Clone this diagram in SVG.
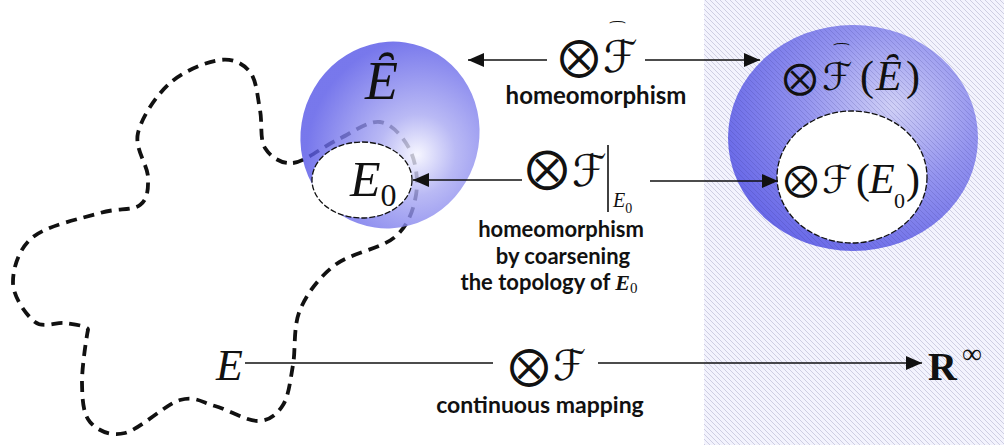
<svg xmlns="http://www.w3.org/2000/svg" width="1004" height="445" viewBox="0 0 1004 445">
<style>
.lbl{font-family:Lato,"Open Sans",sans-serif;font-weight:bold;fill:#111;text-anchor:middle}
.mi{font-family:"Liberation Serif",serif;font-style:italic;fill:#111}
.rm{font-family:"Liberation Serif",serif;fill:#111}
.op{font-family:"DejaVu Sans",sans-serif;fill:#111;text-anchor:middle}
.cal{font-family:"DejaVu Sans",serif;fill:#111}
.hat{font-family:"DejaVu Sans",sans-serif;fill:#111;text-anchor:middle;font-size:16px}
.conn{stroke:#111;stroke-width:1.6;fill:none}
.dash{stroke:#111;stroke-width:3.8;fill:none;stroke-dasharray:11 7}
.bd{stroke:#111;stroke-width:1.3;stroke-dasharray:6 2}
</style>
<defs>
<pattern id="hatch" patternUnits="userSpaceOnUse" width="5" height="5">
<rect width="5" height="5" fill="#f3f3fd"/>
<path d="M-1,-1 L6,6 M-1,4 L1,6 M4,-1 L6,1" stroke="#c2c2da" stroke-width="0.75"/>
</pattern>
<pattern id="hatch2" patternUnits="userSpaceOnUse" width="5" height="5">
<path d="M-1,-1 L6,6 M-1,4 L1,6 M4,-1 L6,1" stroke="#2a2a80" stroke-opacity="0.22" stroke-width="0.8"/>
</pattern>
<radialGradient id="gL" cx="0.68" cy="0.55" r="0.62" fx="0.68" fy="0.55">
<stop offset="0" stop-color="#f4f4ff"/>
<stop offset="0.35" stop-color="#a8a8f2"/>
<stop offset="1" stop-color="#5656e7"/>
</radialGradient>
<radialGradient id="gR" cx="0.66" cy="0.36" r="0.7" fx="0.66" fy="0.36">
<stop offset="0" stop-color="#d0d0f6"/>
<stop offset="0.5" stop-color="#9494ef"/>
<stop offset="1" stop-color="#6a6ae8"/>
</radialGradient>
<marker id="ah" markerUnits="userSpaceOnUse" markerWidth="18" markerHeight="14" refX="16" refY="7" orient="auto">
<path d="M0,0 L16,7 L0,14 z" fill="#111"/>
</marker>
</defs>
<rect width="1004" height="445" fill="#ffffff"/>
<rect id="space-R" x="704" y="0" width="300" height="445" fill="url(#hatch)"/>

<g id="curve-E">
<path class="dash" d="M293,163 C305,161.7 322.5,146.8 337,140 C351.5,133.2 367.8,120.3 380,122 C392.2,123.7 404,137.8 410,150 C416,162.2 418.5,180.5 416,195 C413.5,209.5 408.5,225.3 395,237 C381.5,248.7 350.8,252.8 335,265 C319.2,277.2 307,293.3 300,310 C293,326.7 295.8,349.2 293,365 C290.2,380.8 288.8,395.7 283,405 C277.2,414.3 269.3,420.8 258,421 C246.7,421.2 228,409.5 215,406 C202,402.5 195,395.5 180,400 C165,404.5 140,429.3 125,433 C110,436.7 97.2,430.3 90,422 C82.8,413.7 82.3,398.3 82,383 C81.7,367.7 87,334 88,330 C89,326 73.8,324.3 65,323 C56.2,321.7 43.7,328.7 35,322 C26.3,315.3 13.3,297.2 13,283 C12.7,268.8 18.5,248.7 33,237 C47.5,225.3 82.2,218.3 100,213 C117.8,207.7 132,211 140,205 C148,199 148.3,189 148,177 C147.7,165 134.3,148.7 138,133 C141.7,117.3 156.3,95.2 170,83 C183.7,70.8 206.7,61.8 220,60 C233.3,58.2 243.3,63.7 250,72 C256.7,80.3 257.5,97.3 260,110 C262.5,122.7 259.5,139.2 265,148 C270.5,156.8 281,164.3 293,163 Z"/>
</g>

<g id="node-Ehat">
<ellipse cx="390" cy="135" rx="89" ry="94" transform="rotate(20 390 135)" fill="url(#gL)" opacity="0.8"/>
<text class="mi" x="365" y="99" font-size="54">Ȇ</text>
</g>

<g id="node-E0">
<ellipse class="bd" cx="362" cy="180" rx="50" ry="38" fill="#ffffff"/>
<text class="mi" x="350" y="196" font-size="50">E<tspan class="rm" font-style="normal" font-size="32" dy="10">0</tspan></text>
</g>

<g id="node-FE">
<ellipse cx="853" cy="138" rx="125" ry="113" fill="url(#gR)"/>
<ellipse cx="853" cy="138" rx="125" ry="113" fill="url(#hatch2)"/>
<text class="op" x="800" y="89" font-size="34">⨂</text>
<text y="90"><tspan class="cal" x="822" font-size="38">ℱ</tspan><tspan class="rm" x="860" font-size="42">(</tspan><tspan class="mi" x="876" font-size="42">Ȇ</tspan><tspan class="rm" x="906" font-size="42">)</tspan></text>
<text class="hat" transform="translate(841,48) scale(1.8,1)">⌢</text>
</g>

<g id="node-FE0">
<ellipse class="bd" cx="852" cy="177" rx="75" ry="66" fill="#ffffff"/>
<text class="op" x="801" y="191" font-size="34">⨂</text>
<text y="193"><tspan class="cal" x="822" font-size="38">ℱ</tspan><tspan class="rm" x="856" font-size="42">(</tspan><tspan class="mi" x="869" font-size="42">E</tspan><tspan class="rm" x="894" y="208" font-size="22">0</tspan><tspan class="rm" x="906" y="193" font-size="42">)</tspan></text>
</g>

<g id="node-E">
<text class="mi" x="216" y="380" font-size="44">E</text>
</g>

<g id="node-Rinf">
<text class="rm" x="928" y="380" font-size="40" font-weight="bold">R<tspan font-weight="normal" font-size="28" x="962" y="363">∞</tspan></text>
</g>

<g id="connectors">
<line class="conn" x1="547" y1="60" x2="468" y2="60" marker-end="url(#ah)"/>
<line class="conn" x1="645" y1="60" x2="760" y2="60" marker-end="url(#ah)"/>
<line class="conn" x1="522" y1="180" x2="413" y2="180" marker-end="url(#ah)"/>
<line class="conn" x1="650" y1="181" x2="778" y2="181" marker-end="url(#ah)"/>
<line class="conn" x1="245" y1="363" x2="493" y2="363"/>
<line class="conn" x1="598" y1="363" x2="922" y2="363" marker-end="url(#ah)"/>
</g>

<g id="label-top">
<text class="op" x="579" y="70" font-size="40">⨂</text>
<text class="cal" x="603" y="72" font-size="44">ℱ</text>
<text class="hat" transform="translate(617,26) scale(1.8,1)">⌢</text>
<text class="lbl" x="596" y="103.5" font-size="24">homeomorphism</text>
</g>

<g id="label-mid">
<text class="op" x="547" y="182" font-size="42">⨂</text>
<text class="cal" x="572" y="186" font-size="44">ℱ</text>
<line x1="608" y1="145" x2="608" y2="212" stroke="#111" stroke-width="1.6"/>
<text class="mi" x="613" y="207" font-size="20">E<tspan class="rm" font-style="normal" font-size="14" dy="6">0</tspan></text>
<text class="lbl" x="561" y="237" font-size="22">homeomorphism</text>
<text class="lbl" x="563" y="263.5" font-size="22">by coarsening</text>
<text class="lbl" x="549" y="290" font-size="22">the topology of <tspan font-family="Liberation Serif,serif" font-style="italic">E</tspan><tspan font-family="Liberation Serif,serif" font-weight="normal" font-size="15" dy="3">0</tspan></text>
</g>

<g id="label-bottom">
<text class="op" x="529" y="379" font-size="40">⨂</text>
<text class="cal" x="553" y="380" font-size="42">ℱ</text>
<text class="lbl" x="540" y="413" font-size="23">continuous mapping</text>
</g>
</svg>
